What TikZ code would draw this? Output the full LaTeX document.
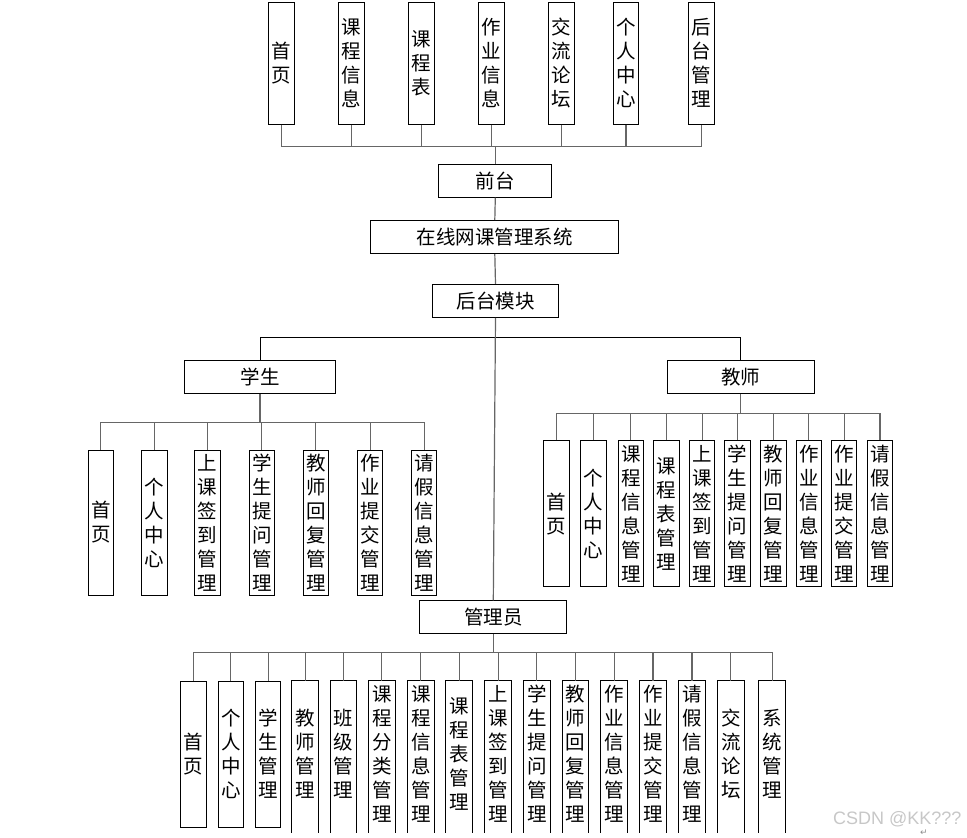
\documentclass[tikz,border=0pt]{standalone}
\usepackage{fontspec}
\newfontfamily\cjk{Noto Sans CJK SC}
\newfontfamily\wmfont{Liberation Sans}
\newfontfamily\symfont{DejaVu Sans}
\begin{document}
\begin{tikzpicture}[x=1pt,y=-1pt,
  box/.style={draw=black, line width=1pt, inner sep=0pt, align=center,
    font=\cjk\fontsize{19.5}{24}\selectfont},
  hbox/.style={box, minimum height=33},
  vb/.style={box, minimum width=25.5},
  openb/.style={vb, draw=none},
  boxline/.style={draw=black, line width=1pt},
  conn/.style={draw=black!60, line width=1.2pt},
  mainbus/.style={draw=black, line width=1pt}]
\useasboundingbox (0,0) rectangle (967,838);

% ---- front end ----
\node[vb, minimum height=122] (t1) at (281.7,63) {首\\页};
\node[vb, minimum height=122] (t2) at (351.3,63) {课\\程\\信\\息};
\node[vb, minimum height=122] (t3) at (421.3,63) {课\\程\\表};
\node[vb, minimum height=122] (t4) at (491.3,63) {作\\业\\信\\息};
\node[vb, minimum height=122] (t5) at (561.3,63) {交\\流\\论\\坛};
\node[vb, minimum height=122] (t6) at (626,63) {个\\人\\中\\心};
\node[vb, minimum height=122] (t7) at (701.7,63) {后\\台\\管\\理};

\node[hbox, minimum width=112.7] (qt) at (495.3,180.7) {前台};
\node[hbox, minimum width=247.7] (sys) at (494.8,237) {在线网课管理系统};
\node[hbox, minimum width=126.3] (hm) at (495.5,300.8) {后台模块};

\coordinate (tb) at (496,146.7);
\draw[conn] (t1.south) |- (t7.south |- tb) -- (t7.south);
\foreach \i in {2,...,6} \draw[conn] (t\i.south) -- (t\i.south |- tb);
\draw[conn] (qt.north) -- (qt.north |- tb);
\draw[conn] (qt.south) -- (sys.north);
\draw[conn] (sys.south) -- (hm.north);

% ---- roles ----
\node[hbox, minimum width=151.3] (xs) at (260,377) {学生};
\node[hbox, minimum width=146.7] (js) at (740.7,376.7) {教师};
\node[hbox, minimum width=146.7] (gl) at (493.3,617.3) {管理员};

\coordinate (mb) at (0,337);
\draw[mainbus] (xs.north) -- (xs.north |- mb) -- (js.north |- mb) -- (js.north);
\draw[conn] (hm.south) -- (gl.north);

% ---- student ----
\foreach \i/\x/\t in {1/100.8/{首\\页}, 2/154.5/{个\\人\\中\\心}, 3/207.5/{上\\课\\签\\到\\管\\理},
  4/261.8/{学\\生\\提\\问\\管\\理}, 5/315.8/{教\\师\\回\\复\\管\\理},
  6/370.2/{作\\业\\提\\交\\管\\理}, 7/424.2/{请\\假\\信\\息\\管\\理}}
  \node[vb, minimum height=145] (s\i) at (\x,522.5) {\t};
\coordinate (sb) at (0,422.7);
\draw[conn] (xs.south) -- (xs.south |- sb);
\draw[conn] (s1.north) |- (s7.north |- sb) -- (s7.north);
\foreach \i in {2,...,6} \draw[conn] (s\i.north) -- (s\i.north |- sb);

% ---- teacher ----
\foreach \i/\x/\t in {1/556.7/{首\\页}, 2/593.5/{个\\人\\中\\心}, 3/630.8/{课\\程\\信\\息\\管\\理},
  4/666.7/{课\\程\\表\\管\\理}, 5/702.2/{上\\课\\签\\到\\管\\理},
  6/737.5/{学\\生\\提\\问\\管\\理}, 7/773.3/{教\\师\\回\\复\\管\\理},
  8/808.8/{作\\业\\信\\息\\管\\理}, 9/844.2/{作\\业\\提\\交\\管\\理},
  10/880/{请\\假\\信\\息\\管\\理}}
  \node[vb, minimum height=146] (j\i) at (\x,513.7) {\t};
\coordinate (jb) at (0,413.3);
\draw[conn] (js.south) -- (js.south |- jb);
\draw[conn] (j1.north) |- (j10.north |- jb) -- (j10.north);
\foreach \i in {2,...,9} \draw[conn] (j\i.north) -- (j\i.north |- jb);

% ---- admin ----
\foreach \i/\x/\t in {1/193.5/{首\\页}, 2/230.8/{个\\人\\中\\心}, 3/268.2/{学\\生\\管\\理}}
  \node[vb, minimum height=146] (a\i) at (\x,754) {\t};
\foreach \i/\x/\t in {4/305.2/{教\\师\\管\\理}, 5/343.5/{班\\级\\管\\理},
  6/381.8/{课\\程\\分\\类\\管\\理}, 7/420.8/{课\\程\\信\\息\\管\\理},
  8/459.2/{课\\程\\表\\管\\理}, 9/498.2/{上\\课\\签\\到\\管\\理},
  10/536.8/{学\\生\\提\\问\\管\\理}, 11/575.5/{教\\师\\回\\复\\管\\理},
  12/614.2/{作\\业\\信\\息\\管\\理}, 13/653/{作\\业\\提\\交\\管\\理},
  14/692/{请\\假\\信\\息\\管\\理}, 15/730.8/{交\\流\\论\\坛}, 16/772.2/{系\\统\\管\\理}}
  {
  \node[openb, minimum height=146] (a\i) at (\x,754) {\t};
  \draw[boxline] ([yshift=-5pt]a\i.south west) |- (a\i.north east) -- ([yshift=-5pt]a\i.south east);
  }
\coordinate (ab) at (0,652.7);
\draw[conn] (gl.south) -- (gl.south |- ab);
\draw[conn] (a1.north) |- (a16.north |- ab) -- (a16.north);
\foreach \i in {2,...,15} \draw[conn] (a\i.north) -- (a\i.north |- ab);

% ---- watermark ----
\node[anchor=west, inner sep=0pt, text=black!22, font=\wmfont\fontsize{18}{20}\selectfont] (wm) at (833,819) {CSDN @KK???};
\node[inner sep=0pt, text=black!45, font=\symfont\fontsize{9}{10}\selectfont] (ret) at (924,833) {↵};
\end{tikzpicture}
\end{document}
